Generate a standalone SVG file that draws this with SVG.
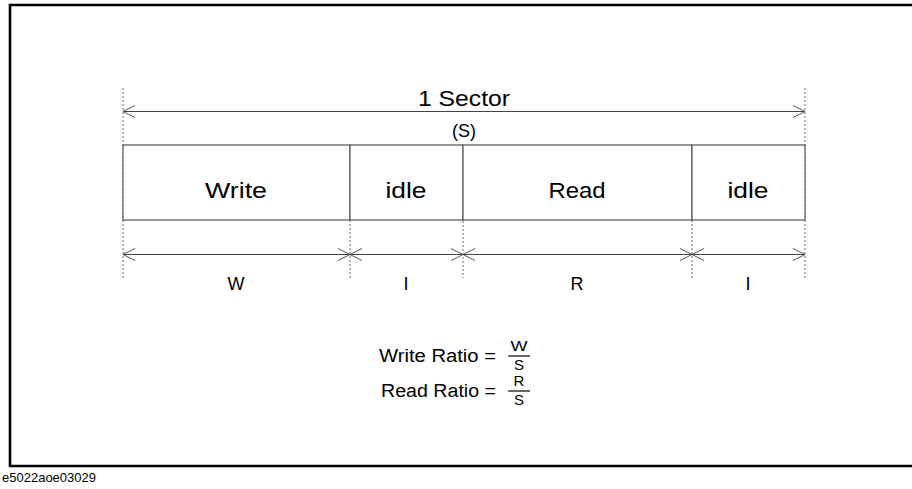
<svg xmlns="http://www.w3.org/2000/svg" width="912" height="489" viewBox="0 0 912 489">
  <style>
    text { font-family: "Liberation Sans", Arial, sans-serif; fill: #000; }
    .big { font-size: 22px; text-anchor: middle; }
    .mid { font-size: 18px; text-anchor: middle; }
    .frac { font-size: 15px; text-anchor: middle; }
    .cell { fill: #fff; stroke: #555; stroke-width: 1.2; }
    .dim { stroke: #444; stroke-width: 1.2; fill: none; }
    .ext { stroke: #666; stroke-width: 1; stroke-dasharray: 2 2; fill: none; }
    .head { stroke: #555; stroke-width: 1; fill: none; }
  </style>
  <defs>
    <!-- open chevron used as dimension arrowhead, tip at origin -->
    <path id="tipL" class="head" d="M12,-6 L0,0 L12,6"/>
    <path id="tipR" class="head" d="M-12,-6 L0,0 L-12,6"/>
  </defs>

  <rect width="912" height="489" fill="#fff"/>
  <!-- outer frame, right side runs off the page -->
  <path d="M930,5 L10,5 L10,466 L930,466" fill="none" stroke="#000" stroke-width="2.6"/>

  <!-- extension lines -->
  <g id="extensions">
    <line class="ext" x1="123" y1="88" x2="123" y2="280"/>
    <line class="ext" x1="805" y1="88" x2="805" y2="280"/>
    <line class="ext" x1="350" y1="220" x2="350" y2="278"/>
    <line class="ext" x1="463" y1="205" x2="463" y2="278"/>
    <line class="ext" x1="692" y1="220" x2="692" y2="278"/>
  </g>

  <!-- segments of the sector -->
  <g id="write"><rect class="cell" x="123" y="145" width="227" height="75"/><text class="big" x="236" y="198" textLength="62" lengthAdjust="spacingAndGlyphs">Write</text></g>
  <g id="idle1"><rect class="cell" x="350" y="145" width="113" height="75"/><text class="big" x="406" y="198" textLength="41" lengthAdjust="spacingAndGlyphs">idle</text></g>
  <g id="read"><rect class="cell" x="463" y="145" width="229" height="75"/><text class="big" x="577" y="198" textLength="57" lengthAdjust="spacingAndGlyphs">Read</text></g>
  <g id="idle2"><rect class="cell" x="692" y="145" width="113" height="75"/><text class="big" x="748" y="198" textLength="41" lengthAdjust="spacingAndGlyphs">idle</text></g>

  <!-- dimension lines -->
  <g id="connectors">
    <line class="dim" x1="123" y1="111.5" x2="805" y2="111.5"/>
    <use href="#tipL" x="123" y="111.5"/>
    <use href="#tipR" x="805" y="111.5"/>

    <line class="dim" x1="123" y1="254.5" x2="805" y2="254.5"/>
    <use href="#tipL" x="123" y="254.5"/>
    <use href="#tipR" x="350" y="254.5"/>
    <use href="#tipL" x="350" y="254.5"/>
    <use href="#tipR" x="463" y="254.5"/>
    <use href="#tipL" x="463" y="254.5"/>
    <use href="#tipR" x="692" y="254.5"/>
    <use href="#tipL" x="692" y="254.5"/>
    <use href="#tipR" x="805" y="254.5"/>
  </g>

  <g id="labels">
    <text class="big" x="464" y="106" textLength="92" lengthAdjust="spacingAndGlyphs">1 Sector</text>
    <text class="mid" x="464" y="137">(S)</text>
    <text class="mid" x="236" y="290">W</text>
    <text class="mid" x="406" y="290">I</text>
    <text class="mid" x="577" y="290">R</text>
    <text class="mid" x="748" y="290">I</text>
  </g>

  <!-- ratio formulas -->
  <g id="formulas">
    <text x="379" y="361.5" font-size="18" textLength="117" lengthAdjust="spacingAndGlyphs">Write Ratio =</text>
    <text class="frac" x="519" y="351" textLength="17" lengthAdjust="spacingAndGlyphs">W</text>
    <line x1="508" y1="356" x2="530" y2="356" stroke="#000" stroke-width="1.2"/>
    <text class="frac" x="519" y="370">S</text>

    <text x="381" y="396.5" font-size="18" textLength="115" lengthAdjust="spacingAndGlyphs">Read Ratio =</text>
    <text class="frac" x="519" y="386">R</text>
    <line x1="508" y1="391" x2="530" y2="391" stroke="#000" stroke-width="1.2"/>
    <text class="frac" x="519" y="405">S</text>
  </g>

  <text x="2" y="482" font-size="13">e5022aoe03029</text>
</svg>
